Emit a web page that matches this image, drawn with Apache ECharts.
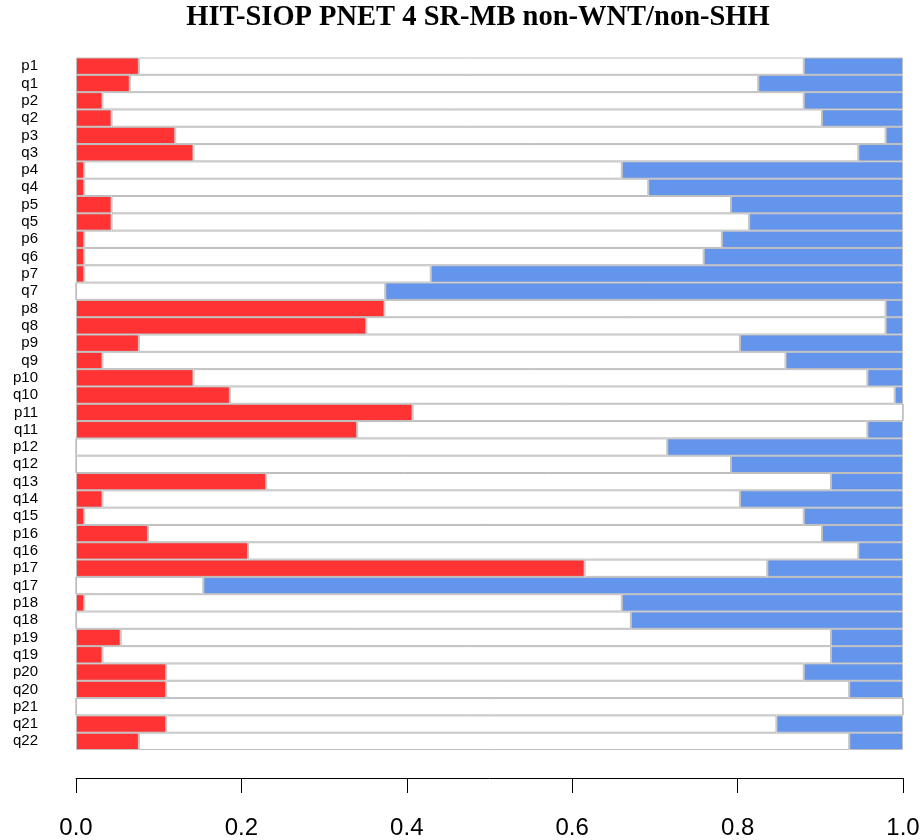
<!DOCTYPE html>
<html>
<head>
<meta charset="utf-8">
<script src="https://cdn.jsdelivr.net/npm/echarts@6/dist/echarts.min.js"></script>
<style>html,body{margin:0;padding:0;background:#fff;}#c{width:923px;height:840px;}</style>
</head>
<body>
<div id="c"></div>
<script>
const categories = ["p1","q1","p2","q2","p3","q3","p4","q4","p5","q5","p6","q6","p7","q7","p8","q8","p9","q9","p10","q10","p11","q11","p12","q12","q13","q14","q15","p16","q16","p17","q17","p18","q18","p19","q19","p20","q20","p21","q21","q22"];
const gain = [0.076,0.065,0.032,0.043,0.120,0.142,0.010,0.010,0.043,0.043,0.010,0.010,0.010,0,0.373,0.351,0.076,0.032,0.142,0.186,0.407,0.340,0,0,0.230,0.032,0.010,0.087,0.208,0.615,0,0.010,0,0.054,0.032,0.109,0.109,0,0.109,0.076];
const neutral = [0.804,0.760,0.848,0.859,0.859,0.804,0.650,0.682,0.749,0.771,0.771,0.749,0.419,0.374,0.606,0.628,0.727,0.826,0.815,0.804,0.593,0.617,0.715,0.792,0.683,0.771,0.870,0.815,0.738,0.221,0.154,0.650,0.671,0.859,0.881,0.771,0.826,1.000,0.738,0.859];
const loss = [0.120,0.175,0.120,0.098,0.021,0.054,0.340,0.308,0.208,0.186,0.219,0.241,0.571,0.626,0.021,0.021,0.197,0.142,0.043,0.010,0,0.043,0.285,0.208,0.087,0.197,0.120,0.098,0.054,0.164,0.846,0.340,0.329,0.087,0.087,0.120,0.065,0,0.153,0.065];
const xTicks = [0, 0.2, 0.4, 0.6, 0.8, 1.0];
const titleText = "HIT-SIOP PNET 4 SR-MB non-WNT/non-SHH";

const chart = echarts.init(document.getElementById('c'), null, {renderer: 'canvas'});
const border = {borderColor: '#BEBEBE', borderWidth: 1};
function seg(name, data, color) {
  return {
    name: name, type: 'bar', stack: 'all', data: data,
    barCategoryGap: '0%', barGap: '0%',
    itemStyle: Object.assign({color: color}, border),
    emphasis: {disabled: true}, animation: false
  };
}
chart.setOption({
  animation: false,
  grid: {left: 76, right: 20, top: 57.5, bottom: 89.5, containLabel: false},
  graphic: [{
    type: 'text', x: 478, y: 18,
    style: {text: titleText, font: 'bold 28.5px "Liberation Serif", "Times New Roman", serif', fill: '#000', textAlign: 'center', textVerticalAlign: 'middle'}
  }],
  xAxis: {
    type: 'value', min: xTicks[0], max: xTicks[xTicks.length - 1], interval: 0.2,
    offset: 28,
    splitLine: {show: false},
    axisLine: {show: true, lineStyle: {color: '#000', width: 1}},
    axisTick: {show: true, length: 15, lineStyle: {color: '#000', width: 1}},
    axisLabel: {formatter: v => v.toFixed(1), fontSize: 24, color: '#000', fontFamily: '"Liberation Sans", Arial, sans-serif', margin: 38}
  },
  yAxis: {
    type: 'category', data: categories, inverse: true,
    axisLine: {show: false}, axisTick: {show: false}, splitLine: {show: false},
    axisLabel: {fontSize: 15, color: '#000', fontFamily: '"Liberation Sans", Arial, sans-serif', margin: 38, interval: 0}
  },
  series: [
    seg('gain', gain, '#FF3333'),
    seg('neutral', neutral, '#FFFFFF'),
    seg('loss', loss, '#6495ED')
  ]
});
</script>
</body>
</html>
